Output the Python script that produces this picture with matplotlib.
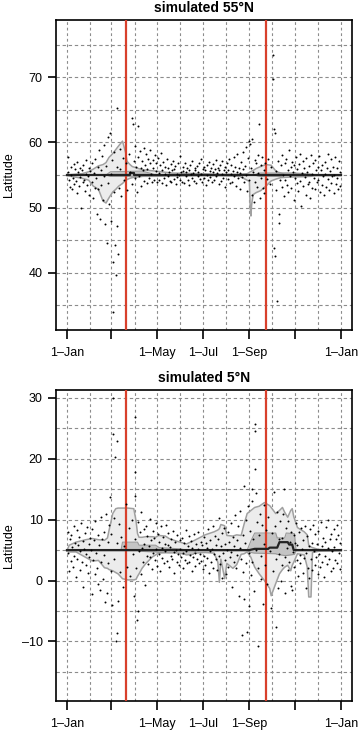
import numpy as np
import matplotlib
matplotlib.use('Agg')
import matplotlib.pyplot as plt

plt.rcParams['font.family'] = ['Liberation Sans', 'DejaVu Sans']

# month starts (day of year) used for grid and ticks
month_starts = [0, 31, 59, 90, 120, 151, 181, 212, 243, 273, 304, 334, 365]
tick_days = [0, 59, 120, 181, 243, 304, 365]
tick_labels = ['1\u2013Jan', '', '1\u2013May', '1\u2013Jul', '1\u2013Sep', '', '1\u2013Jan']
equinox_days = [79, 265]

# ---- 55N panel ----
pts55 = [
    (1, 57.8), (2, 55.5), (3, 54.2), (4, 53.1), (5, 56.2), (6, 55.0), (7, 52.8), (8, 54.5), (9, 56.7), (10, 53.6),
    (11, 55.9), (12, 54.1), (13, 52.2), (14, 57.0), (15, 55.4), (16, 53.3), (17, 56.1), (18, 54.7), (19, 49.9), (20, 55.8),
    (21, 53.9), (22, 56.5), (23, 54.3), (24, 52.6), (25, 55.2), (26, 57.3), (27, 53.5), (28, 54.9), (29, 56.0), (30, 52.0),
    (31, 55.6), (33, 54.0), (34, 56.8), (35, 51.5), (36, 55.3), (37, 53.0), (38, 57.4), (39, 54.6), (40, 49.0), (41, 56.3),
    (42, 52.9), (43, 58.8), (44, 48.2), (45, 55.7), (46, 53.4), (47, 57.9), (48, 51.2), (49, 54.8), (50, 59.6), (51, 47.5),
    (52, 56.4), (53, 44.5), (54, 53.8), (55, 60.8), (56, 50.5), (57, 61.5), (58, 55.1), (59, 48.0), (60, 57.3), (61, 41.7),
    (61, 34.0), (62, 52.4), (63, 58.5), (64, 44.3), (65, 39.7), (66, 65.3), (66, 47.2), (67, 56.2), (68, 42.8), (69, 53.0),
    (70, 59.0), (71, 55.9), (72, 51.8), (74, 57.6), (76, 54.2), (78, 56.9), (80, 52.7), (82, 58.2), (84, 55.4), (86, 53.6),
    (87, 63.8), (88, 62.8), (89, 57.1), (90, 54.6), (91, 59.5), (92, 56.3), (93, 52.4), (94, 62.5), (95, 57.8), (96, 54.9),
    (97, 58.7), (98, 56.0), (99, 53.3), (100, 57.2), (101, 55.7), (102, 59.1), (103, 54.1), (104, 56.6), (105, 58.3), (106, 53.8),
    (107, 55.9), (108, 57.5), (109, 54.5), (110, 56.8), (111, 58.9), (112, 55.2), (113, 53.9), (114, 57.3), (115, 56.1), (116, 54.3),
    (117, 58.0), (118, 55.6), (119, 56.9), (120, 54.0), (121, 57.6), (122, 55.3), (123, 54.2), (124, 56.5), (125, 58.4), (126, 53.7),
    (127, 55.8), (128, 57.0), (129, 54.6), (130, 56.2), (131, 55.1), (132, 53.5), (133, 57.4), (134, 54.9), (135, 56.0), (136, 55.5),
    (137, 54.1), (138, 56.7), (139, 53.9), (140, 55.7), (141, 57.2), (142, 54.4), (143, 55.9), (144, 56.4), (145, 53.6), (146, 55.2),
    (147, 54.7), (148, 56.8), (149, 55.0), (150, 54.2), (151, 57.9), (152, 55.4), (153, 54.0), (154, 56.3), (155, 55.6), (156, 53.8),
    (157, 56.9), (158, 54.8), (159, 55.5), (160, 56.1), (161, 54.3), (162, 55.8), (163, 53.4), (164, 56.6), (165, 55.1), (166, 54.6),
    (167, 57.1), (168, 55.3), (169, 54.1), (170, 56.0), (171, 55.7), (172, 53.7), (173, 56.4), (174, 54.9), (175, 55.5), (176, 56.8),
    (177, 54.4), (178, 55.2), (179, 57.5), (180, 54.0), (181, 55.9), (182, 56.2), (183, 54.5), (184, 55.7), (185, 53.5), (186, 56.5),
    (187, 55.0), (188, 54.2), (189, 57.0), (190, 55.6), (191, 54.7), (192, 56.1), (193, 53.9), (194, 55.4), (195, 56.7), (196, 54.3),
    (197, 55.9), (198, 57.3), (199, 54.8), (200, 55.3), (201, 56.0), (202, 53.6), (203, 55.8), (204, 56.6), (205, 54.1), (206, 55.2),
    (207, 57.1), (208, 54.6), (209, 55.7), (210, 56.3), (211, 53.2), (212, 55.5), (213, 56.9), (214, 54.4), (215, 55.8), (216, 57.4),
    (217, 53.7), (218, 55.1), (219, 56.5), (220, 54.0), (221, 55.6), (222, 57.8), (223, 54.9), (224, 56.2), (225, 53.3), (226, 55.4),
    (227, 58.2), (228, 54.5), (229, 56.0), (230, 55.3), (231, 52.8), (232, 57.0), (233, 54.7), (234, 55.9), (235, 58.5), (236, 53.9),
    (237, 56.4), (238, 55.0), (239, 59.3), (240, 52.5), (241, 57.6), (242, 60.2), (243, 54.2), (244, 59.7), (245, 56.1), (246, 52.0),
    (247, 60.5), (248, 55.5), (249, 50.8), (250, 57.3), (251, 54.0), (252, 56.8), (253, 53.2), (254, 58.0), (255, 55.3), (256, 62.8),
    (257, 51.5), (258, 56.5), (259, 54.6), (260, 57.7), (261, 53.0), (262, 55.8), (263, 52.3), (264, 56.9), (266, 54.4), (268, 57.5),
    (270, 53.6), (272, 56.2), (274, 73.5), (275, 69.8), (276, 62.0), (276, 43.8), (277, 61.5), (277, 42.5), (278, 55.6), (279, 52.7),
    (280, 35.6), (281, 57.2), (282, 49.0), (283, 47.7), (284, 54.3), (285, 56.5), (286, 53.1), (287, 58.0), (288, 55.0), (289, 51.8),
    (290, 56.9), (291, 54.2), (292, 57.5), (293, 53.5), (294, 55.8), (295, 52.4), (296, 58.8), (297, 54.8), (298, 56.3), (299, 53.0),
    (300, 57.0), (301, 55.4), (302, 51.2), (303, 56.6), (304, 54.5), (305, 57.8), (306, 53.8), (307, 55.9), (308, 52.6), (309, 56.7),
    (310, 54.1), (311, 58.3), (312, 50.2), (313, 55.3), (314, 57.1), (315, 53.3), (316, 56.0), (317, 54.7), (318, 52.0), (319, 57.6),
    (320, 55.5), (321, 53.6), (322, 56.4), (323, 54.0), (324, 51.5), (325, 58.0), (326, 55.1), (327, 53.0), (328, 56.9), (329, 54.6),
    (330, 52.8), (331, 57.3), (332, 55.7), (333, 53.9), (334, 56.2), (335, 54.3), (336, 57.9), (337, 52.4), (338, 55.8), (339, 53.5),
    (340, 56.6), (341, 54.8), (342, 51.9), (343, 57.0), (344, 55.2), (345, 53.1), (346, 56.1), (347, 54.4), (348, 58.2), (349, 52.7),
    (350, 55.6), (351, 53.8), (352, 57.4), (353, 54.9), (354, 56.3), (355, 52.2), (356, 55.0), (357, 57.7), (358, 53.6), (359, 56.0),
    (360, 54.5), (361, 52.9), (362, 57.1), (363, 55.4), (364, 53.3),
]

# (day, low, high)
outer55 = [
    (0, 54.9, 55.0), (10, 54.7, 55.1), (20, 54.5, 55.2), (29, 54.2, 55.5), (35, 53.3, 55.9), (42, 52.8, 56.4),
    (48, 51.0, 56.6), (52, 50.7, 56.9), (56, 51.5, 57.7), (61, 52.4, 58.3), (65, 52.8, 58.9), (69, 53.3, 59.5),
    (74, 53.7, 60.2), (78, 54.2, 58.5), (80, 54.3, 57.1), (84, 54.5, 56.6), (87, 54.6, 56.3), (95, 54.7, 56.0),
    (101, 54.8, 55.8), (118, 54.8, 55.6), (140, 54.85, 55.3), (181, 54.9, 55.2), (200, 54.9, 55.1), (230, 54.8, 55.1),
    (240, 54.2, 55.2), (243, 54.0, 55.4), (244, 50.0, 55.5), (245, 48.7, 55.5), (246, 50.5, 55.6), (248, 52.0, 55.7),
    (252, 52.3, 56.0), (258, 52.6, 56.3), (265, 53.3, 56.6), (272, 54.1, 56.5), (279, 54.4, 55.5), (285, 54.6, 55.3),
    (300, 54.7, 55.3), (316, 54.75, 55.2), (325, 54.8, 55.1), (330, 54.9, 55.0), (365, 54.9, 55.0),
]
inner55 = [
    (0, 55.0, 55.0), (52, 55.0, 55.0), (58, 54.8, 55.5), (100, 54.8, 55.6), (110, 54.9, 55.3), (118, 55.0, 55.0),
    (250, 55.0, 55.0), (256, 54.8, 55.3), (285, 54.8, 55.3), (292, 55.0, 55.0), (365, 55.0, 55.0),
]
line55 = [(0, 55.0), (84, 55.0), (84, 55.3), (89, 55.3), (89, 55.0), (365, 55.0)]

# ---- 5N panel ----
pts5 = [
    (1, 8.0), (2, 4.5), (3, 1.5), (4, 6.8), (5, 3.2), (6, 7.5), (7, 5.5), (8, 2.3), (9, 9.0), (10, 4.0),
    (11, 6.2), (12, 0.5), (13, 8.3), (14, 3.6), (15, 5.9), (16, 7.2), (17, 1.8), (18, 4.8), (19, 9.5), (20, 3.0),
    (21, 6.5), (22, -1.0), (23, 5.2), (24, 7.8), (25, 2.6), (26, 4.3), (27, 8.8), (28, 1.2), (29, 6.0), (30, 3.8),
    (31, 7.0), (32, 5.0), (33, -2.2), (34, 8.4), (35, 3.4), (36, 6.6), (37, 1.0), (38, 9.8), (39, 4.6), (40, 2.0),
    (41, 7.4), (42, -0.5), (43, 5.8), (44, -1.6), (45, 3.1), (46, 10.5), (47, 6.9), (48, 0.2), (49, 8.0), (50, 4.2),
    (51, -3.5), (52, 11.0), (53, -2.0), (54, 6.3), (55, 2.8), (56, 9.2), (57, 13.7), (58, 1.6), (59, 7.7), (60, -4.0),
    (61, 30.0), (61, 24.0), (62, 3.5), (63, 10.2), (64, 20.3), (65, -10.0), (66, 22.9), (66, -8.7), (67, 6.1), (68, -3.3),
    (69, 9.3), (70, 1.4), (72, 7.2), (74, -1.0), (76, 5.6), (78, 12.5), (80, 2.2), (82, 8.6), (84, 0.8), (86, 10.0),
    (88, 4.4), (89, -2.5), (90, 26.8), (90, 17.8), (90, 13.9), (91, 6.8), (92, 2.0), (93, -6.5), (94, 9.6), (95, -5.0),
    (96, 4.9), (97, 7.9), (98, 1.1), (99, 11.3), (100, 5.4), (101, 3.0), (102, 8.5), (103, 6.0), (104, -0.8), (105, 9.0),
    (106, 4.1), (107, 7.3), (108, 2.7), (109, 5.7), (110, 10.1), (111, 3.9), (112, 6.7), (113, 1.9), (114, 8.2), (115, 4.6),
    (116, 7.0), (117, 3.3), (118, 9.4), (119, 5.1), (120, 2.4), (121, 7.6), (122, 4.4), (123, 6.3), (124, 1.6), (125, 8.9),
    (126, 5.3), (127, 3.7), (128, 7.1), (129, 2.9), (130, 6.0), (131, 4.8), (132, 9.2), (133, 3.2), (134, 5.9), (135, 7.8),
    (136, 2.2), (137, 5.5), (138, 4.0), (139, 6.9), (140, 3.5), (141, 8.1), (142, 4.7), (143, 1.3), (144, 6.4), (145, 5.0),
    (146, 3.0), (147, 7.4), (148, 4.3), (149, 2.6), (150, 6.6), (151, 5.2), (152, 3.8), (153, 7.0), (154, 4.5), (155, 2.0),
    (156, 6.1), (157, 3.4), (158, 8.3), (159, 4.9), (160, 2.8), (161, 5.6), (162, 7.3), (163, 3.1), (164, 4.2), (165, 6.5),
    (166, 1.5), (167, 5.3), (168, 3.9), (169, 7.6), (170, 4.6), (171, 2.4), (172, 6.0), (173, 3.6), (174, 5.1), (175, 8.0),
    (176, 2.9), (177, 4.4), (178, 6.3), (179, 3.2), (180, 5.8), (181, 1.9), (182, 7.1), (183, 4.0), (184, 2.5), (185, 6.2),
    (186, 3.7), (187, 5.4), (188, 8.4), (189, 1.2), (190, 4.8), (191, 6.7), (192, 3.0), (193, 5.2), (194, 9.0), (195, 2.1),
    (196, 4.3), (197, 7.3), (198, 3.5), (199, 5.9), (200, 1.8), (201, 6.8), (202, 4.1), (203, 10.3), (204, 2.7), (205, 5.6),
    (206, 7.8), (207, 0.4), (208, 4.6), (209, 8.7), (210, 3.3), (211, 6.0), (212, 1.0), (213, 5.0), (214, 8.0), (215, 2.3),
    (216, 6.4), (217, 3.8), (218, 9.4), (219, 4.7), (220, -1.0), (221, 7.1), (222, 3.1), (223, 5.7), (224, 10.8), (225, 2.0),
    (226, 6.6), (227, 4.2), (228, 8.9), (229, -2.5), (230, 5.3), (231, 11.5), (232, 3.5), (233, -8.9), (234, 7.5), (235, 1.4),
    (236, 15.6), (236, -3.0), (237, 6.2), (238, 9.9), (239, 2.8), (240, -8.5), (241, 12.2), (242, 4.5), (243, -4.2), (244, 8.2),
    (245, 0.9), (246, 13.0), (247, 15.0), (247, 3.0), (248, 6.9), (249, -1.8), (250, 25.7), (251, 24.6), (251, 18.4), (252, 14.3),
    (252, 5.0), (253, 9.6), (254, -10.8), (255, 2.0), (256, 7.5), (257, 11.0), (258, 0.3), (259, 4.1), (260, 9.1), (261, -3.8),
    (262, 6.0), (263, 12.4), (264, 2.6), (265, 8.3), (266, -0.6), (268, 10.5), (270, 4.9), (272, -4.5), (273, 7.8), (275, 1.5),
    (276, 14.5), (277, 9.0), (278, -7.7), (279, 3.6), (280, 11.2), (281, -1.3), (282, 6.8), (283, 4.3), (284, 9.7), (285, 0.0),
    (286, 7.0), (287, 2.5), (288, 10.9), (289, 15.1), (290, 3.9), (291, -2.0), (292, 8.6), (293, 5.4), (294, 1.8), (295, 9.8),
    (296, 3.0), (297, 6.3), (298, -0.9), (299, 8.0), (300, -1.6), (301, 4.7), (302, 7.4), (303, 2.2), (304, 6.1), (305, 9.5),
    (306, 3.4), (307, 5.8), (308, 0.8), (309, 7.9), (310, 4.2), (311, 2.9), (312, 8.7), (313, 5.1), (314, 1.3), (315, 6.6),
    (316, 3.7), (317, 9.0), (318, 4.5), (319, -1.2), (320, 7.3), (321, 2.0), (322, 5.6), (323, 0.4), (324, 8.4), (325, 3.5),
    (326, 6.2), (327, 1.7), (328, 9.2), (329, 4.8), (330, 2.6), (331, 7.6), (332, 3.9), (333, 6.0), (334, 1.1), (335, 8.1),
    (336, 4.4), (337, 2.3), (338, 9.6), (339, 5.7), (340, 3.1), (341, 7.0), (342, 0.6), (343, 6.4), (344, 4.0), (345, 8.8),
    (346, 2.7), (347, 5.3), (348, 9.9), (349, 3.6), (350, 6.8), (351, 1.5), (352, 7.7), (353, 4.9), (354, 2.1), (355, 8.5),
    (356, 5.5), (357, 3.3), (358, 6.9), (359, 9.2), (360, 2.8), (361, 7.4), (362, 4.6), (363, 1.9), (364, 6.1),
]

outer5 = [
    (0, 4.8, 4.9), (3, 4.7, 5.8), (12, 4.7, 6.3), (25, 3.8, 6.7), (34, 3.2, 6.9), (42, 3.3, 6.7), (50, 2.1, 6.6),
    (54, 2.0, 7.0), (56, 1.8, 8.2), (61, 1.6, 11.0), (65, 1.3, 11.8), (68, 1.1, 11.9), (74, 0.3, 11.9), (81, 0.1, 11.9),
    (89, 0.1, 11.8), (92, 0.2, 9.8), (94, 0.7, 7.7), (96, 1.1, 7.1), (100, 2.0, 7.1), (105, 2.8, 7.2), (114, 3.9, 7.2),
    (118, 4.2, 7.1), (122, 4.5, 7.4), (131, 4.6, 7.3), (136, 4.6, 6.9), (145, 4.7, 6.5), (159, 4.3, 6.0), (170, 4.5, 6.6),
    (184, 4.6, 7.5), (196, 4.5, 8.0), (201, 3.0, 8.3), (203, -0.3, 8.5), (205, 3.5, 9.2), (210, 0.3, 9.0), (213, 2.8, 7.4),
    (221, 2.0, 7.3), (226, 2.6, 7.5), (232, 4.3, 7.4), (236, 4.4, 9.3), (240, 4.7, 11.0), (245, 3.8, 11.5), (250, 2.2, 12.0),
    (256, 1.1, 12.2), (263, 0.0, 12.8), (270, -1.3, 12.3), (272, -2.5, 12.0), (278, -0.5, 11.0), (283, 1.1, 11.5),
    (287, 1.8, 12.0), (290, 2.2, 11.2), (294, 2.5, 10.4), (298, 1.6, 11.5), (300, 2.5, 11.8), (302, 3.0, 10.5),
    (307, 4.4, 8.7), (316, 4.2, 8.0), (320, 2.2, 7.5), (322, -2.7, 5.8), (325, -2.7, 5.5), (327, 4.6, 5.4),
    (335, 4.8, 5.1), (365, 4.9, 5.0),
]
inner5 = [
    (0, 4.9, 5.0), (72, 4.9, 5.0), (74, 4.9, 6.3), (94, 4.9, 6.3), (96, 4.8, 5.8), (118, 4.7, 5.8), (123, 4.6, 5.4),
    (150, 4.5, 5.2), (159, 4.2, 5.0), (168, 4.3, 5.0), (172, 4.9, 5.0), (240, 4.9, 5.0), (245, 4.6, 6.5), (250, 4.5, 7.8),
    (278, 4.4, 7.8), (280, 4.3, 7.0), (290, 4.1, 7.0), (292, 4.1, 7.8), (303, 4.3, 7.7), (305, 4.9, 5.0), (365, 4.9, 5.0),
]
line5 = [(0, 5.0), (243, 5.0), (250, 5.2), (268, 5.2), (270, 5.4), (280, 5.4), (283, 6.3), (294, 6.3),
         (296, 5.9), (300, 5.9), (302, 5.0), (365, 5.0)]

panels = [
    dict(title='simulated 55\u00b0N', pts=pts55, outer=outer55, inner=inner55, line=line55,
         ylim=(31.2, 78.8), yticks=[40, 50, 60, 70], ygrid=np.arange(35, 80, 5),
         rect=[0.1564, 0.5486, 0.8268, 0.4240]),
    dict(title='simulated 5\u00b0N', pts=pts5, outer=outer5, inner=inner5, line=line5,
         ylim=(-19.8, 31.3), yticks=[-10, 0, 10, 20, 30], ygrid=np.arange(-15, 35, 5),
         rect=[0.1564, 0.0410, 0.8268, 0.4255]),
]

fig = plt.figure(figsize=(3.58, 7.31), dpi=100)

for p in panels:
    ax = fig.add_axes(p['rect'])
    ax.set_xlim(-14.6, 379.6)
    ax.set_ylim(*p['ylim'])

    # dashed grid
    for d in month_starts:
        ax.axvline(d, color='#8c8c8c', lw=0.8, ls=(0, (2.5, 2.5)), zorder=0)
    for g in p['ygrid']:
        ax.axhline(g, color='#8c8c8c', lw=0.8, ls=(0, (3, 2.5)), zorder=0)

    o = np.array(p['outer'])
    ax.fill_between(o[:, 0], o[:, 1], o[:, 2], color='#ececec', lw=0, zorder=1)
    ax.plot(o[:, 0], o[:, 1], color='#a0a0a0', lw=1.1, zorder=2)
    ax.plot(o[:, 0], o[:, 2], color='#a0a0a0', lw=1.1, zorder=2)

    i = np.array(p['inner'])
    ax.fill_between(i[:, 0], i[:, 1], i[:, 2], color='#c4c4c4', lw=0, zorder=2)
    ax.plot(i[:, 0], i[:, 1], color='#999999', lw=0.8, zorder=2)
    ax.plot(i[:, 0], i[:, 2], color='#999999', lw=0.8, zorder=2)

    for d in equinox_days:
        ax.axvline(d, color='#d8402c', lw=1.6, zorder=3)

    ln = np.array(p['line'])
    ax.plot(ln[:, 0], ln[:, 1], color='#222222', lw=1.6, zorder=4)

    pt = np.array(p['pts'])
    ax.scatter(pt[:, 0], pt[:, 1], s=2.0, color='black', linewidths=0, zorder=5)

    ax.set_xticks(tick_days)
    ax.set_xticklabels(tick_labels, fontsize=9)
    ax.set_yticks(p['yticks'])
    ax.set_yticklabels([str(v).replace('-', '\u2013') for v in p['yticks']], fontsize=9)
    ax.tick_params(axis='x', length=6.5, width=1.2, pad=6, direction='out')
    ax.tick_params(axis='y', length=5.5, width=1.2, pad=4, direction='out')
    for s in ax.spines.values():
        s.set_linewidth(1.2)
    ax.set_ylabel('Latitude', fontsize=9)
    ax.yaxis.set_label_coords(-0.14, 0.5)
    ax.set_title(p['title'], fontsize=10, fontweight='bold', pad=6)

fig.savefig('out.png', dpi=100)
